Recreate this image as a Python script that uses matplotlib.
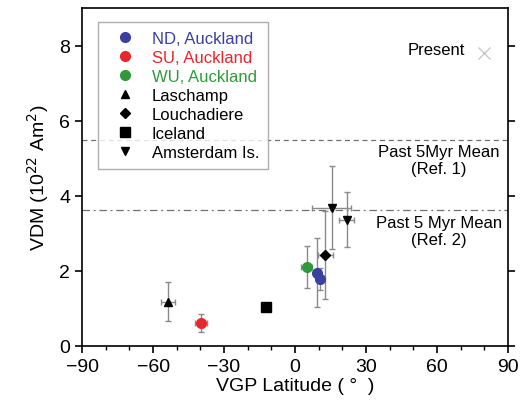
import matplotlib.pyplot as plt
from matplotlib.ticker import MultipleLocator
from matplotlib.lines import Line2D

plt.rcParams['font.family'] = ['Liberation Sans', 'DejaVu Sans']

# data: (VGP lat, VDM, lat err, VDM err)
nd_lat = [9.2, 10.5]
nd_vdm = [1.95, 1.78]
nd_yerr = [0.92, 0.3]

su_lat = [-39.6]
su_vdm = [0.61]
su_xerr = [2.5]
su_yerr = [0.23]

wu_lat = [4.9]
wu_vdm = [2.1]
wu_xerr = [2.5]
wu_yerr = [0.55]

lasch_lat = [-53.6]
lasch_vdm = [1.18]
lasch_xerr = [3.0]
lasch_yerr = [0.51]

louch_lat = [12.9]
louch_vdm = [2.42]
louch_xerr = [3.2]
louch_yerr = [1.17]

iceland_lat = [-12.1]
iceland_vdm = [1.04]

amst_lat = [15.5, 21.8]
amst_vdm = [3.68, 3.36]
amst_xerr = [8.3, 3.0]
amst_yerr = [1.1, 0.73]

present_lat = 80
present_vdm = 7.8
mean_ref1 = 5.48
mean_ref2 = 3.63

fig = plt.figure(figsize=(5.23, 4.10), dpi=100)
ax = fig.add_axes([0.157, 0.154, 0.814, 0.824])

ebkw = dict(ecolor='#8a8a8a', elinewidth=1.0, capsize=2.5, capthick=1.0, linestyle='none')

ax.errorbar(lasch_lat, lasch_vdm, xerr=lasch_xerr, yerr=lasch_yerr, fmt='^', color='black',
            ms=6, zorder=3, **ebkw)
ax.errorbar(louch_lat, louch_vdm, xerr=louch_xerr, yerr=louch_yerr, fmt='D', color='black',
            ms=5, zorder=3, **ebkw)
ax.errorbar(amst_lat, amst_vdm, xerr=amst_xerr, yerr=amst_yerr, fmt='v', color='black',
            ms=6, zorder=3, **ebkw)
ax.errorbar(su_lat, su_vdm, xerr=su_xerr, yerr=su_yerr, fmt='o', color='#e8262b',
            ms=7, zorder=4, **ebkw)
ax.errorbar(wu_lat, wu_vdm, xerr=wu_xerr, yerr=wu_yerr, fmt='o', color='#2f9a3a',
            ms=7, zorder=4, **ebkw)
ax.errorbar(nd_lat, nd_vdm, yerr=nd_yerr, fmt='o', color='#3b3f9e',
            ms=7, zorder=4, **ebkw)
ax.plot(iceland_lat, iceland_vdm, 's', color='black', ms=7, zorder=3)

ax.plot([present_lat], [present_vdm], 'x', color='#c8c8c8', ms=8, mew=1.0)
ax.text(present_lat - 8, present_vdm + 0.1, 'Present', ha='right', va='center', fontsize=12)

ax.axhline(mean_ref1, color='#707070', linestyle=(0, (4, 3)), linewidth=0.9, zorder=1)
ax.axhline(mean_ref2, color='#707070', linestyle=(0, (6, 3, 1.5, 3)), linewidth=0.9, zorder=1)
ax.text(61, mean_ref1 - 0.52, 'Past 5Myr Mean\n(Ref. 1)', ha='center', va='center',
        fontsize=12, linespacing=1.15)
ax.text(61, mean_ref2 - 0.58, 'Past 5 Myr Mean\n(Ref. 2)', ha='center', va='center',
        fontsize=12, linespacing=1.15)

ax.set_xlim(-90, 90)
ax.set_ylim(0, 9)
ax.xaxis.set_major_locator(MultipleLocator(30))
ax.xaxis.set_minor_locator(MultipleLocator(10))
ax.yaxis.set_major_locator(MultipleLocator(2))
ax.tick_params(axis='both', which='major', direction='out', length=5, width=1.2, labelsize=14)
ax.tick_params(axis='x', which='minor', direction='out', length=3, width=1.0)
ax.tick_params(axis='y', right=True, which='major')
ax.tick_params(top=False, which='both')
for s in ax.spines.values():
    s.set_linewidth(1.2)

ax.set_xlabel('VGP Latitude ( °  )', fontsize=14, labelpad=2)
ax.set_ylabel('VDM (10$^{22}$ Am$^2$)', fontsize=14, labelpad=6)

# legend entries in the reference's order
legend_labels = ['ND, Auckland', 'SU, Auckland', 'WU, Auckland', 'Laschamp', 'Louchadiere',
                 'Iceland', 'Amsterdam Is.']
legend_markers = ['o', 'o', 'o', '^', 'D', 's', 'v']
legend_colors = ['#3b3f9e', '#e8262b', '#2f9a3a', 'black', 'black', 'black', 'black']
legend_sizes = [7, 7, 7, 6, 5, 7, 6]
leg_handles = [Line2D([], [], linestyle='none', marker=m, color=c, ms=s)
               for m, c, s in zip(legend_markers, legend_colors, legend_sizes)]
leg = ax.legend(leg_handles, legend_labels, loc='upper left', bbox_to_anchor=(0.037, 0.96),
                borderaxespad=0, fontsize=12, frameon=True, fancybox=False,
                edgecolor='#9a9a9a', handletextpad=0.48, labelspacing=0.24,
                handlelength=2.2, borderpad=0.55)
leg.get_frame().set_linewidth(1.0)
for t, c in zip(leg.get_texts(), legend_colors):
    t.set_color(c)

fig.savefig('out.png', dpi=100)
